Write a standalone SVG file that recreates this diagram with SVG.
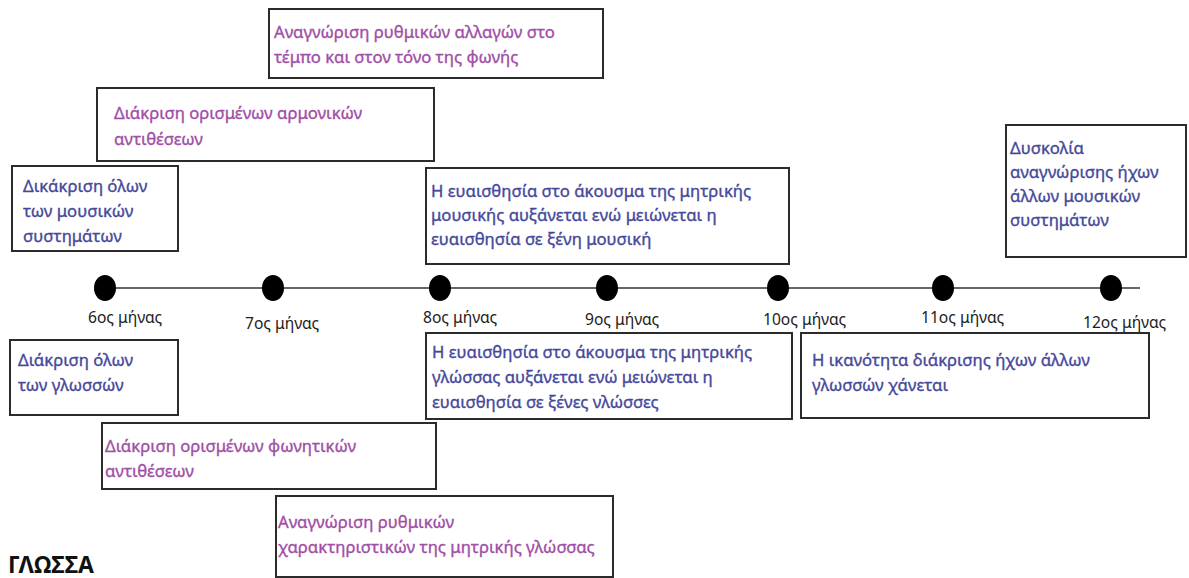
<svg xmlns="http://www.w3.org/2000/svg" width="1189" height="578" viewBox="0 0 1189 578">
<style>
.box{fill:#fff;stroke:#2b2b2b;stroke-width:2}
.t{font-family:"Noto Sans","Open Sans",sans-serif;font-size:16.7px;stroke-width:0.35px}
.p{fill:#a04ea6;stroke:#a04ea6}
.b{fill:#45489a;stroke:#45489a}
.lbl{font-family:"Noto Sans","Open Sans",sans-serif;font-size:15.6px;fill:#222}
.dot{fill:#000}
</style>
<rect width="1189" height="578" fill="#fff"/>
<g id="timeline">
<line x1="105" y1="288" x2="1140" y2="288" stroke="#333" stroke-width="1.6"/>
</g>
<g id="m6"><ellipse class="dot" cx="105" cy="288" rx="11" ry="13"/><text class="lbl" x="88" y="323">6ος μήνας</text></g>
<g id="m7"><ellipse class="dot" cx="273" cy="288" rx="11" ry="13"/><text class="lbl" x="245" y="329">7ος μήνας</text></g>
<g id="m8"><ellipse class="dot" cx="440" cy="288" rx="11" ry="13"/><text class="lbl" x="423" y="323">8ος μήνας</text></g>
<g id="m9"><ellipse class="dot" cx="607" cy="288" rx="11" ry="13"/><text class="lbl" x="585" y="325">9ος μήνας</text></g>
<g id="m10"><ellipse class="dot" cx="778" cy="288" rx="11" ry="13"/><text class="lbl" x="763" y="325">10ος μήνας</text></g>
<g id="m11"><ellipse class="dot" cx="943" cy="288" rx="11" ry="13"/><text class="lbl" x="921" y="323">11ος μήνας</text></g>
<g id="m12"><ellipse class="dot" cx="1111" cy="288" rx="11" ry="13"/><text class="lbl" x="1083" y="328">12ος μήνας</text></g>

<g id="boxA"><rect class="box" x="269" y="9" width="334" height="69"/>
<text class="t p" x="274" y="38">Αναγνώριση ρυθμικών αλλαγών στο</text>
<text class="t p" x="274" y="63">τέμπο και στον τόνο της φωνής</text></g>
<g id="boxB"><rect class="box" x="97" y="88" width="337" height="73"/>
<text class="t p" x="114" y="119">Διάκριση ορισμένων αρμονικών</text>
<text class="t p" x="114" y="145">αντιθέσεων</text></g>
<g id="boxC"><rect class="box" x="12" y="166" width="166" height="85"/>
<text class="t b" x="23" y="192">Δικάκριση όλων</text>
<text class="t b" x="23" y="217">των μουσικών</text>
<text class="t b" x="23" y="242">συστημάτων</text></g>
<g id="boxD"><rect class="box" x="426" y="168" width="363" height="96"/>
<text class="t b" x="431" y="197">Η ευαισθησία στο άκουσμα της μητρικής</text>
<text class="t b" x="431" y="221">μουσικής αυξάνεται ενώ μειώνεται η</text>
<text class="t b" x="431" y="245">ευαισθησία σε ξένη μουσική</text></g>
<g id="boxE"><rect class="box" x="1006" y="125" width="180" height="132"/>
<text class="t b" x="1010" y="154">Δυσκολία</text>
<text class="t b" x="1010" y="178">αναγνώρισης ήχων</text>
<text class="t b" x="1010" y="202">άλλων μουσικών</text>
<text class="t b" x="1010" y="226">συστημάτων</text></g>
<g id="boxF"><rect class="box" x="10" y="340" width="168" height="75"/>
<text class="t b" x="18" y="366">Διάκριση όλων</text>
<text class="t b" x="18" y="391">των γλωσσών</text></g>
<g id="boxG"><rect class="box" x="426" y="333" width="366" height="86"/>
<text class="t b" x="432" y="358">Η ευαισθησία στο άκουσμα της μητρικής</text>
<text class="t b" x="432" y="383">γλώσσας αυξάνεται ενώ μειώνεται η</text>
<text class="t b" x="432" y="408">ευαισθησία σε ξένες νλώσσες</text></g>
<g id="boxH"><rect class="box" x="801" y="333" width="348" height="85"/>
<text class="t b" x="812" y="366">Η ικανότητα διάκρισης ήχων άλλων</text>
<text class="t b" x="812" y="391">γλωσσών χάνεται</text></g>
<g id="boxI"><rect class="box" x="102" y="423" width="334" height="66"/>
<text class="t p" x="105" y="452">Διάκριση ορισμένων φωνητικών</text>
<text class="t p" x="105" y="477">αντιθέσεων</text></g>
<g id="boxJ"><rect class="box" x="276" y="496" width="337" height="81"/>
<text class="t p" x="278" y="528">Αναγνώριση ρυθμικών</text>
<text class="t p" x="278" y="553">χαρακτηριστικών της μητρικής γλώσσας</text></g>
<text x="8" y="573" font-family="'Noto Sans','Open Sans',sans-serif" font-weight="bold" font-size="23" fill="#111">ΓΛΩΣΣΑ</text>
</svg>
